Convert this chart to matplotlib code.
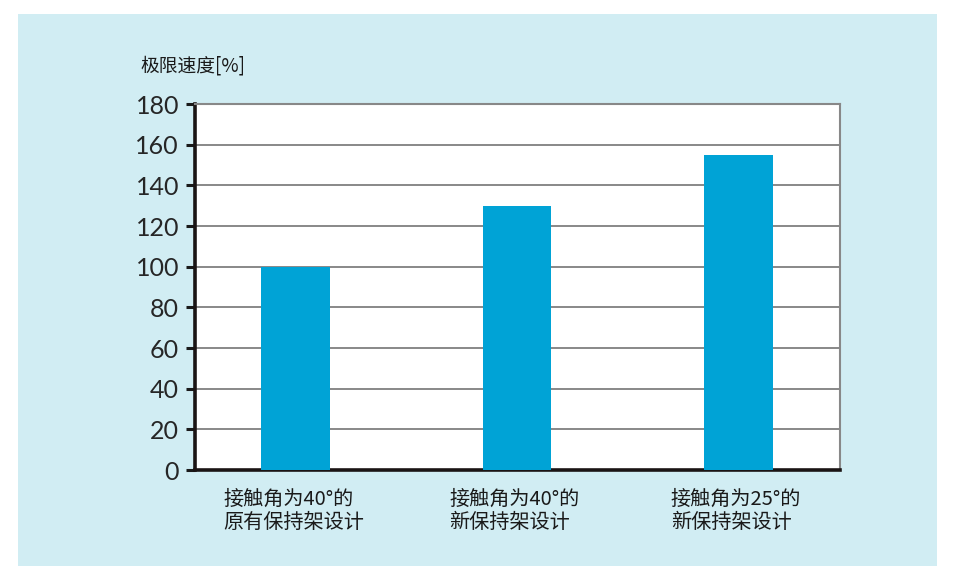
import matplotlib
matplotlib.use('Agg')
import matplotlib.pyplot as plt
from matplotlib.patches import Rectangle

plt.rcParams['font.family'] = ['Noto Sans CJK SC', 'DejaVu Sans']

# datos del grafico
categorias = ["接触角为40°的\n原有保持架设计",
              "接触角为40°的\n新保持架设计",
              "接触角为25°的\n新保持架设计"]
velocidad = [100, 130, 155]
ticks_y = [0, 20, 40, 60, 80, 100, 120, 140, 160, 180]

AZUL_BARRA = "#00A3D6"
FONDO = "#D1EDF3"

fig = plt.figure(figsize=(9.54, 5.74), dpi=100)
fig.patch.set_facecolor("white")

# panel celeste de fondo
fig.patches.append(Rectangle((18 / 954, 1 - 566 / 574), (937 - 18) / 954, (566 - 14) / 574,
                             transform=fig.transFigure, facecolor=FONDO,
                             edgecolor="none", zorder=-5))

ax = fig.add_axes([195 / 954, 1 - 470 / 574, (840 - 195) / 954, (470 - 104) / 574])
ax.set_zorder(2)
ax.set_facecolor("white")

x = range(len(categorias))
ax.bar(x, velocidad, width=0.31, color=AZUL_BARRA, zorder=3)

ax.set_xlim(-0.455, 2.46)
ax.set_ylim(0, 180)
ax.set_yticks(ticks_y)
ax.set_yticklabels([str(t) for t in ticks_y], fontsize=18, color="#262626",
                   family=["Lato", "DejaVu Sans"], fontweight="normal")
ax.set_xticks([])

ax.yaxis.grid(True, color="#888888", linewidth=1.4, zorder=1)
ax.set_axisbelow(True)

ax.tick_params(axis="y", direction="out", length=6.5, width=2.2, color="#1a1a1a", pad=5)

ax.spines["left"].set_linewidth(2.6)
ax.spines["left"].set_color("#1a1414")
ax.spines["bottom"].set_linewidth(2.6)
ax.spines["bottom"].set_color("#1a1414")
ax.spines["top"].set_linewidth(1.5)
ax.spines["top"].set_color("#888888")
ax.spines["right"].set_linewidth(1.5)
ax.spines["right"].set_color("#888888")

# etiquetas de categorias
for i, texto in enumerate(categorias):
    ax.text(i - 0.01, -9, texto, ha="center", va="top", multialignment="left",
            fontsize=14.5, color="#1a1a1a", linespacing=1.15,
            transform=ax.transData, clip_on=False)

fig.text(140 / 954, 1 - 66 / 574, "极限速度[%]", ha="left", va="center",
         fontsize=13.5, color="#1a1a1a")

plt.savefig("out.png", dpi=100)
plt.close()
